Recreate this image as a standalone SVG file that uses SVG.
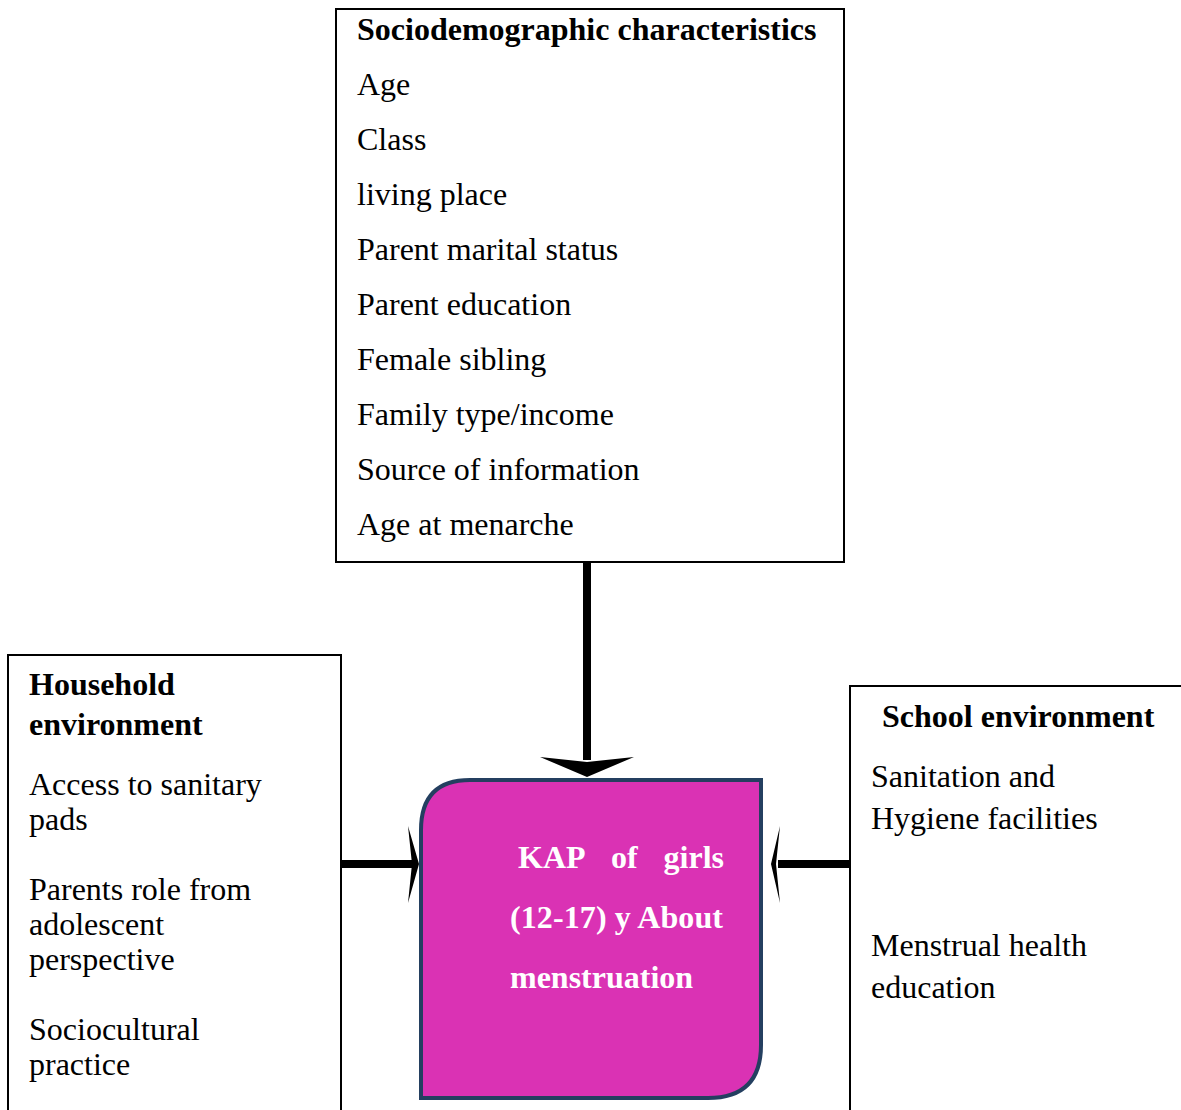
<svg xmlns="http://www.w3.org/2000/svg" width="1181" height="1110" viewBox="0 0 1181 1110">
<style>
.box{fill:#fff;stroke:#000;stroke-width:2}
.t{font-family:"Liberation Serif","Times New Roman",serif;font-size:32px;fill:#000}
.b{font-weight:bold}
.w{font-family:"Liberation Serif","Times New Roman",serif;font-size:32px;font-weight:bold;fill:#fff}
.ln{stroke:#000;stroke-width:8;fill:none}
</style>
<rect width="1181" height="1110" fill="#fff"/>
<g id="connectors">
<line class="ln" x1="587" y1="563" x2="587" y2="760"/>
<path d="M540,757 L587,762 L634,757 L587,777 Z" fill="#000"/>
<line class="ln" x1="341" y1="864" x2="412" y2="864"/>
<path d="M408,826 L412,864 L408,903 L419,864 Z" fill="#000"/>
<line class="ln" x1="850" y1="864" x2="778" y2="864"/>
<path d="M780,826 L776,864 L780,903 L771,864 Z" fill="#000"/>
</g>
<g id="sociodemographic">
<rect class="box" x="336" y="9" width="508" height="553"/>
<text class="t b" x="357" y="40">Sociodemographic characteristics</text>
<text class="t" x="357" y="95">Age</text>
<text class="t" x="357" y="150">Class</text>
<text class="t" x="357" y="205">living place</text>
<text class="t" x="357" y="260">Parent marital status</text>
<text class="t" x="357" y="315">Parent education</text>
<text class="t" x="357" y="370">Female sibling</text>
<text class="t" x="357" y="425">Family type/income</text>
<text class="t" x="357" y="480">Source of information</text>
<text class="t" x="357" y="535">Age at menarche</text>
</g>
<g id="household">
<rect class="box" x="8" y="655" width="333" height="470"/>
<text class="t b" x="29" y="695">Household</text>
<text class="t b" x="29" y="735">environment</text>
<text class="t" x="29" y="795">Access to sanitary</text>
<text class="t" x="29" y="830">pads</text>
<text class="t" x="29" y="900">Parents role from</text>
<text class="t" x="29" y="935">adolescent</text>
<text class="t" x="29" y="970">perspective</text>
<text class="t" x="29" y="1040">Sociocultural</text>
<text class="t" x="29" y="1075">practice</text>
</g>
<g id="school">
<rect class="box" x="850" y="686" width="345" height="440"/>
<text class="t b" x="882" y="727">School environment</text>
<text class="t" x="871" y="787">Sanitation and</text>
<text class="t" x="871" y="829">Hygiene facilities</text>
<text class="t" x="871" y="956">Menstrual health</text>
<text class="t" x="871" y="998">education</text>
</g>
<g id="kap">
<path d="M470,780 L761,780 L761,1045 Q761,1098 708,1098 L421,1098 L421,830 Q421,780 470,780 Z" fill="#DA32B4" stroke="#243F60" stroke-width="4"/>
<text class="w" x="518" y="868">KAP</text>
<text class="w" x="611" y="868">of</text>
<text class="w" x="724" y="868" text-anchor="end">girls</text>
<text class="w" x="510" y="928" textLength="213">(12-17) y About</text>
<text class="w" x="510" y="988">menstruation</text>
</g>
</svg>
